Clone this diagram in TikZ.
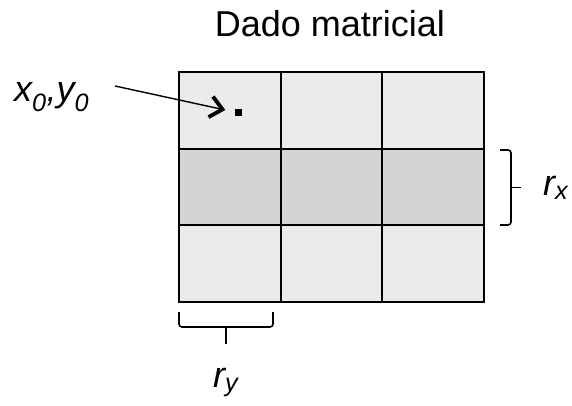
\documentclass[tikz,border=0pt]{standalone}
\usepackage{fontspec}
\setmainfont{Liberation Sans}
\usetikzlibrary{arrows.meta}

\definecolor{celllight}{RGB}{235,235,235}
\definecolor{celldark}{RGB}{212,212,212}

\begin{document}
\begin{tikzpicture}[x=1pt, y=-1pt,
    every node/.style={font=\fontsize{36}{43}\selectfont, inner sep=0pt},
    cell/.style={draw, line width=2pt, minimum width=101.67pt, minimum height=76.67pt},
    marker/.style={fill=black, minimum size=7pt},
    pointer/.style={line width=1.4pt, -{Straight Barb[length=12pt, width=21pt, line width=3.8pt]}},
    bracket/.style={line width=1.6pt, rounded corners=3pt}]
  % one cell of the 3x3 grid: #1 = row, #2 = column, #3 = fill colour
  \newcommand{\gridcell}[3]{%
    \node[cell, fill=#3] (c-#1-#2) at ({179+(#2-0.5)*101.67},{72+(#1-0.5)*76.67}) {};}

  \useasboundingbox (0,0) rectangle (572,406);
  \node[anchor=base] (title) at (330,37) {Dado matricial};

  \foreach \c in {1,2,3} {
    \gridcell{1}{\c}{celllight}
    \gridcell{2}{\c}{celldark}
    \gridcell{3}{\c}{celllight}
  }

  % start point and its label
  \node[marker] (p0) at (238,113) {};
  \node[anchor=base west] (start) at (14,102) {\textit{x\textsubscript{0},y\textsubscript{0}}};
  \coordinate (from) at (115,86);
  \draw[pointer] (from) -- ([shift={(-9,-3)}]p0.west);

  % row extent (right) and column extent (below)
  \coordinate (rx-top) at (500,150);
  \coordinate (rx-bot) at (500,225);
  \coordinate (rx-tip) at (521,187.5);
  \draw[bracket] (rx-top) -| (511,187.5) |- (rx-bot);
  \draw[bracket] (510,187.5) -- (rx-tip);
  \node[anchor=base west] (rx) at (543,195) {\textit{r\textsubscript{x}}};

  \coordinate (ry-left) at (179,312);
  \coordinate (ry-right) at (273,312);
  \coordinate (ry-tip) at (226,344);
  \draw[bracket] (ry-left) |- (226,327) -| (ry-right);
  \draw[bracket] (226,326) -- (ry-tip);
  \node[anchor=base west] (ry) at (213,387) {\textit{r\textsubscript{y}}};
\end{tikzpicture}
\end{document}
